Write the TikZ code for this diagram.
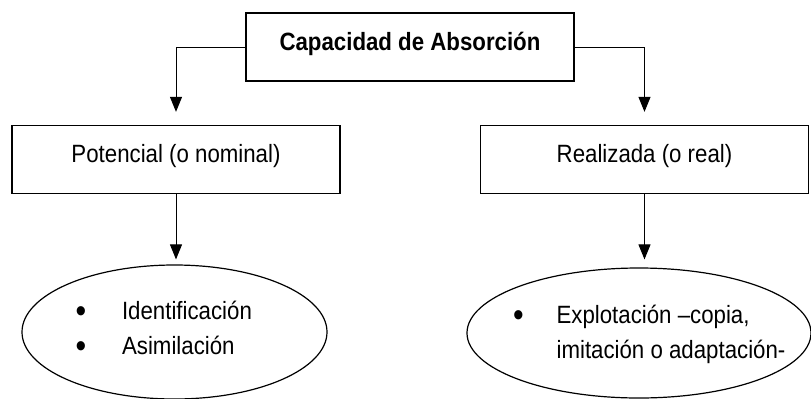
\documentclass[tikz,border=0pt]{standalone}
\usepackage{fontspec}
\setmainfont{Liberation Sans}[FakeStretch=0.89]
\usetikzlibrary{arrows.meta,shapes.geometric,positioning}
\newcommand{\bigbullet}{\makebox[3.9pt]{\raisebox{-1.5pt}{\fontsize{17}{17.5}\selectfont\textbullet}}}
\tikzset{
    box/.style={
      rectangle,
      draw=black, line width=0.65pt,
      minimum width=164pt,
      minimum height=34pt,
      inner sep=0pt,
      text height=18.5pt, text depth=15.5pt,
      font=\fontsize{12.5}{17.5}\selectfont,
    },
    oval/.style={
      ellipse,
      draw=black, line width=0.6pt,
      inner sep=0pt,
    },
    items/.style={
      inner sep=0pt,
      font=\fontsize{12.5}{17.5}\selectfont,
    },
    link/.style={
      line width=0.5pt,
      -{Triangle[width=6pt,length=7.5pt]},
    },
}

\begin{document}
\begin{tikzpicture}[x=0.5pt,y=-0.5pt]

    \useasboundingbox (0,0) rectangle (811,398);

    % top
    \node[box] (CA) at (410,47) {\textbf{Capacidad de Absorción}};

    % second level
    \node[box] (POT) at (176,159.5) {Potencial (o nominal)};
    \node[box] (REAL) at (644.5,159.5) {Realizada (o real)};

    % ellipses
    \node[oval, minimum width=152.5pt, minimum height=67pt] (IDEN) at (174.5,332) {};
    \node[oval, minimum width=172pt, minimum height=65pt] (EXPL) at (639,333) {};

    \node[items] (IDENtxt) at (164.5,330)
    {
      \begin{tabular}{@{}l@{\hspace{18.6pt}}l@{}}
        \bigbullet & Identificación \\
        \bigbullet & Asimilación
      \end{tabular}
    };

    \node[items] (EXPLtxt) at (650,334)
    {
      \begin{tabular}{@{}l@{\hspace{17.1pt}}l@{}}
        \bigbullet & Explotación –copia, \\
                   & imitación o adaptación-
      \end{tabular}
    };

    % connectors
    \draw[link, shorten >=6.5pt] (CA.west) -| (POT.north);
    \draw[link, shorten >=6.5pt] (CA.east) -| (REAL.north);
    \draw[link, shorten >=2.5pt] (POT.south) -- (POT.south |- IDEN.north);
    \draw[link, shorten >=4pt] (REAL.south) -- (REAL.south |- EXPL.north);

\end{tikzpicture}
\end{document}
